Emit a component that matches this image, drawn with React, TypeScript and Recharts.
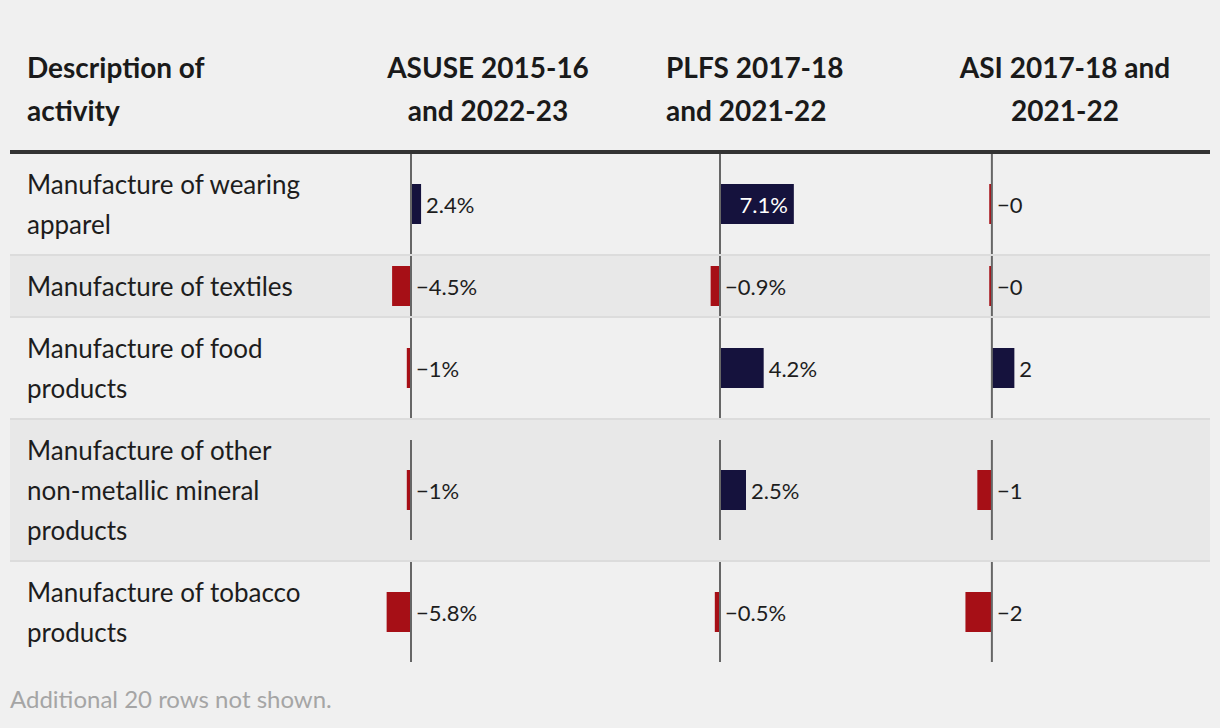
import React from 'react';
import { BarChart, Bar, XAxis, YAxis, Cell, ReferenceLine, LabelList } from 'recharts';

// table rows (line breaks as in the published table)
const rowLabels = [
  'Manufacture of wearing\napparel',
  'Manufacture of textiles',
  'Manufacture of food\nproducts',
  'Manufacture of other\nnon-metallic mineral\nproducts',
  'Manufacture of tobacco\nproducts',
];
const asuseValues = [2.4, -4.5, -1.0, -1.0, -5.8];
const plfsValues = [7.1, -0.9, 4.2, 2.5, -0.5];
const asiValues = [-0.2, -0.2, 1.7, -1.1, -2.0];
const headers = [
  'Description of\nactivity',
  'ASUSE 2015-16\nand 2022-23',
  'PLFS 2017-18\nand 2021-22',
  'ASI 2017-18 and\n2021-22',
];
const footNote = 'Additional 20 rows not shown.';

const POS = '#15123d';
const NEG = '#a60f16';
const FONT = 'Lato, "Noto Sans", sans-serif';

const fmtPct = (v: number) => {
  const s = String(Number(Math.abs(v).toFixed(1)));
  return (v < 0 ? '\u2212' : '') + s + '%';
};
const fmtInt = (v: number) => (v < 0 ? '\u2212' : '') + String(Math.abs(Math.round(v)));

const columns = [
  { values: asuseValues, format: fmtPct, left: 369, width: 210, domain: [-10, 40], ticks: 6 },
  { values: plfsValues, format: fmtPct, left: 668, width: 260, domain: [-5, 20], ticks: 6 },
  { values: asiValues, format: fmtInt, left: 939, width: 238, domain: [-4, 14], ticks: 10 },
];

const headerBoxes = [
  { left: 27, width: 320, align: 'left' },
  { left: 370, width: 236, align: 'center' },
  { left: 666, width: 240, align: 'left' },
  { left: 930, width: 270, align: 'center' },
];

const renderLabel = (props: any, fmt: (v: number) => string) => {
  const vb = props.viewBox || {};
  const x = props.x ?? vb.x;
  const y = props.y ?? vb.y;
  const w = props.width ?? vb.width;
  const h = props.height ?? vb.height;
  const value = Number(props.value);
  const right = Math.max(x, x + w);
  const text = fmt(value);
  const inside = value > 0 && Math.abs(w) > text.length * 12 + 12;
  return (
    <text
      x={inside ? right - 6 : right + 5}
      y={y + h / 2}
      textAnchor={inside ? 'end' : 'start'}
      dominantBaseline="central"
      fill={inside ? '#ffffff' : '#1d1d1d'}
      fontSize={22}
      fontFamily={FONT}
    >
      {text}
    </text>
  );
};

const BarCell = ({ value, col, height }: any) => {
  const data = [{ name: 'v', value }];
  return (
    <BarChart
      layout="vertical"
      width={col.width}
      height={height}
      data={data}
      margin={{ top: 0, right: 0, bottom: 0, left: 0 }}
    >
      <XAxis type="number" domain={col.domain} tickCount={col.ticks} hide />
      <YAxis type="category" dataKey="name" hide />
      <Bar dataKey="value" barSize={40} isAnimationActive={false}>
        <Cell fill={value < 0 ? NEG : POS} />
        <LabelList dataKey="value" content={(p: any) => renderLabel(p, col.format)} />
      </Bar>
      <ReferenceLine x={0} stroke="#666666" strokeWidth={2} />
    </BarChart>
  );
};

export default function App() {
  let top = 154;
  const rows = rowLabels.map((label, i) => {
    const lines = label.split('\n').length;
    const h = lines * 40 + 20;
    const chartH = Math.min(100, h);
    const rowTop = top;
    top += h + 2;
    return (
      <div key={i}>
        <div
          style={{
            position: 'absolute',
            left: 10,
            top: rowTop,
            width: 1200,
            height: h,
            background: i % 2 === 1 ? '#e8e8e8' : 'transparent',
          }}
        />
        {i < rowLabels.length - 1 && (
          <div
            style={{ position: 'absolute', left: 10, top: rowTop + h, width: 1200, height: 2, background: '#dcdcdc' }}
          />
        )}
        <div
          style={{
            position: 'absolute',
            left: 27,
            top: rowTop + 10,
            whiteSpace: 'pre',
            fontSize: 26,
            lineHeight: '40px',
            color: '#1d1d1d',
          }}
        >
          {label}
        </div>
        {columns.map((col, c) => (
          <div
            key={c}
            style={{ position: 'absolute', left: col.left, top: rowTop + (h - chartH) / 2 }}
          >
            <BarCell value={col.values[i]} col={col} height={chartH} />
          </div>
        ))}
      </div>
    );
  });

  return (
    <div
      style={{
        position: 'absolute',
        left: 0,
        top: 0,
        width: 1220,
        height: 728,
        background: '#f0f0f0',
        fontFamily: FONT,
        overflow: 'hidden',
      }}
    >
      {headers.map((t, i) => (
        <div
          key={i}
          style={{
            position: 'absolute',
            left: headerBoxes[i].left,
            top: 46,
            width: headerBoxes[i].width,
            textAlign: headerBoxes[i].align as any,
            whiteSpace: 'pre',
            fontWeight: 700,
            fontSize: 28,
            lineHeight: '43px',
            color: '#1a1a1a',
          }}
        >
          {t}
        </div>
      ))}
      <div style={{ position: 'absolute', left: 10, top: 150, width: 1200, height: 4, background: '#333333' }} />
      {rows}
      <div
        style={{
          position: 'absolute',
          left: 10,
          top: 684,
          fontSize: 24,
          lineHeight: '30px',
          color: '#a5a5a5',
        }}
      >
        {footNote}
      </div>
    </div>
  );
}
